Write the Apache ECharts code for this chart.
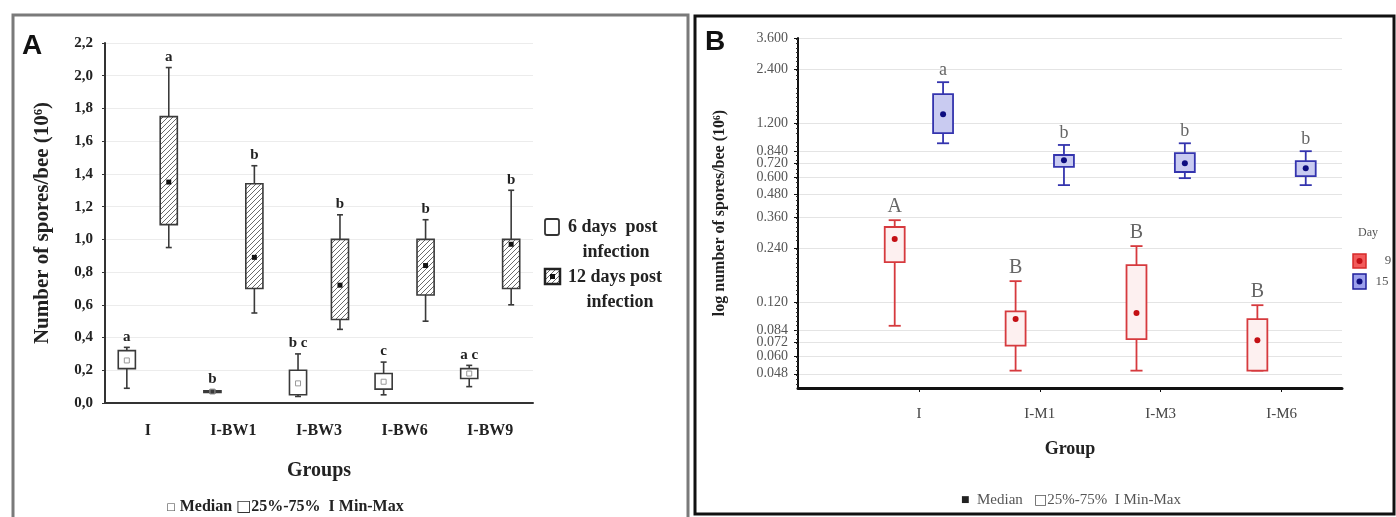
<!DOCTYPE html>
<html>
<head>
<meta charset="utf-8">
<script src="https://cdn.jsdelivr.net/npm/echarts@6/dist/echarts.min.js"></script>
<style>
  html, body { margin: 0; padding: 0; background: #fff; }
  #chart { width: 1396px; height: 517px; }
</style>
</head>
<body>
<div id="chart"></div>
<script>
// ---- panel A data: [min, q1, median, q3, max] ----
const groupsA = ['I', 'I-BW1', 'I-BW3', 'I-BW6', 'I-BW9'];
const day6A = [
  [0.09, 0.21, 0.26, 0.32, 0.34],
  [0.06, 0.065, 0.07, 0.075, 0.08],
  [0.04, 0.05, 0.12, 0.20, 0.30],
  [0.05, 0.085, 0.13, 0.18, 0.25],
  [0.10, 0.15, 0.18, 0.21, 0.23]
];
const day12A = [
  [0.95, 1.09, 1.35, 1.75, 2.05],
  [0.55, 0.70, 0.89, 1.34, 1.45],
  [0.45, 0.51, 0.72, 1.00, 1.15],
  [0.50, 0.66, 0.84, 1.00, 1.12],
  [0.60, 0.70, 0.97, 1.00, 1.30]
];
const day6LettersA = ['a', 'b', 'b c', 'c', 'a c'];
const day12LettersA = ['a', 'b', 'b', 'b', 'b'];

// ---- panel B data ----
const groupsB = ['I', 'I-M1', 'I-M3', 'I-M6'];
const day9B = [
  [0.089, 0.202, 0.272, 0.317, 0.346],
  [0.050, 0.069, 0.097, 0.107, 0.158],
  [0.050, 0.075, 0.105, 0.194, 0.248],
  [0.050, 0.050, 0.074, 0.097, 0.116]
];
const day15B = [
  [0.93, 1.06, 1.35, 1.75, 2.04],
  [0.543, 0.686, 0.747, 0.80, 0.91],
  [0.594, 0.643, 0.72, 0.82, 0.93],
  [0.543, 0.61, 0.675, 0.74, 0.84]
];
const day9LettersB = ['A', 'B', 'B', 'B'];
const day15LettersB = ['a', 'b', 'b', 'b'];
const yTicksB = [0.048, 0.060, 0.072, 0.084, 0.120, 0.240, 0.360, 0.480, 0.600, 0.720, 0.840, 1.200, 2.400, 3.600];

const SERIF = '"Liberation Serif", "Times New Roman", serif';
const SANS = '"Liberation Sans", Arial, sans-serif';

// hatch pattern for the 12 days boxes
const hatch = document.createElement('canvas');
hatch.width = 5;
hatch.height = 5;
const hctx = hatch.getContext('2d');
hctx.fillStyle = '#fff';
hctx.fillRect(0, 0, 5, 5);
hctx.strokeStyle = '#6a6a6a';
hctx.lineWidth = 1;
hctx.beginPath();
hctx.moveTo(0, 5); hctx.lineTo(5, 0);
hctx.moveTo(-1, 1); hctx.lineTo(1, -1);
hctx.moveTo(4, 6); hctx.lineTo(6, 4);
hctx.stroke();

const log = v => Math.log10(v);

function toData(rows, base, tf) {
  return rows.map((r, i) => [i + base].concat(r.map(tf)));
}

// draws whisker + box + median + letter
function boxRenderer(cfg) {
  return function (params, api) {
    const x = api.value(0);
    const band = api.size([1, 0])[0];
    const cx = api.coord([x, api.value(3)])[0] + cfg.offset * band;
    const w = cfg.width * band;
    const cap = cfg.cap * band;
    const py = i => api.coord([x, api.value(i)])[1];
    const yMin = py(1), yQ1 = py(2), yMed = py(3), yQ3 = py(4), yMax = py(5);
    const ls = { stroke: cfg.color, lineWidth: cfg.lineWidth };
    const kids = [
      { type: 'line', shape: { x1: cx, y1: yMax, x2: cx, y2: yQ3 }, style: ls },
      { type: 'line', shape: { x1: cx, y1: yQ1, x2: cx, y2: yMin }, style: ls },
      { type: 'line', shape: { x1: cx - cap / 2, y1: yMax, x2: cx + cap / 2, y2: yMax }, style: ls },
      { type: 'line', shape: { x1: cx - cap / 2, y1: yMin, x2: cx + cap / 2, y2: yMin }, style: ls },
      {
        type: 'rect',
        shape: { x: cx - w / 2, y: yQ3, width: w, height: Math.max(yQ1 - yQ3, 1) },
        style: { fill: cfg.fill, stroke: cfg.color, lineWidth: cfg.lineWidth }
      }
    ];
    if (cfg.median === 'dot') {
      kids.push({ type: 'circle', shape: { cx: cx, cy: yMed, r: 3 }, style: { fill: cfg.medColor } });
    } else if (cfg.median === 'square') {
      kids.push({ type: 'rect', shape: { x: cx - 2.5, y: yMed - 2.5, width: 5, height: 5 }, style: { fill: cfg.medColor } });
    } else {
      kids.push({ type: 'rect', shape: { x: cx - 2.5, y: yMed - 2.5, width: 5, height: 5 }, style: { fill: 'none', stroke: cfg.medColor, lineWidth: 1 } });
    }
    kids.push({
      type: 'text',
      style: {
        text: cfg.letters[params.dataIndex], x: cx, y: yMax - cfg.letterGap,
        align: 'center', verticalAlign: 'bottom',
        fontFamily: SERIF, fontSize: cfg.letterSize, fontWeight: cfg.letterWeight, fill: cfg.letterColor
      }
    });
    return { type: 'group', children: kids };
  };
}

const chart = echarts.init(document.getElementById('chart'), null, { renderer: 'canvas' });

const option = {
  animation: false,
  backgroundColor: '#fff',
  grid: [
    { left: 105, top: 43, width: 428, height: 360 },
    { left: 798, top: 38, width: 544, height: 350 }
  ],
  xAxis: [
    {
      gridIndex: 0, type: 'category', data: groupsA, boundaryGap: true,
      axisLine: { lineStyle: { color: '#333', width: 2 } },
      axisTick: { alignWithLabel: true, length: 4, lineStyle: { color: '#333' } },
      axisLabel: { margin: 20, color: '#222', fontFamily: SERIF, fontWeight: 'bold', fontSize: 16 },
      name: 'Groups', nameLocation: 'middle', nameGap: 58,
      nameTextStyle: { color: '#222', fontFamily: SERIF, fontWeight: 'bold', fontSize: 20 }
    },
    {
      gridIndex: 1, type: 'value', min: 0, max: 4.5,
      axisLine: { onZero: false, lineStyle: { color: '#111', width: 3 } },
      axisTick: { customValues: [1, 2, 3, 4], length: 4, lineStyle: { color: '#111' } },
      axisLabel: {
        customValues: [1, 2, 3, 4], margin: 19, color: '#444', fontFamily: SERIF, fontSize: 15,
        formatter: v => groupsB[Math.round(v) - 1] || ''
      },
      splitLine: { show: false },
      name: 'Group', nameLocation: 'middle', nameGap: 52,
      nameTextStyle: { color: '#222', fontFamily: SERIF, fontWeight: 'bold', fontSize: 18 }
    }
  ],
  yAxis: [
    {
      gridIndex: 0, type: 'value', min: 0, max: 2.2, interval: 0.2,
      axisLine: { show: true, lineStyle: { color: '#333', width: 2 } },
      axisTick: { show: true, length: 3, lineStyle: { color: '#333' } },
      axisLabel: {
        margin: 12, color: '#222', fontFamily: SERIF, fontWeight: 'bold', fontSize: 15,
        formatter: v => v.toFixed(1).replace('.', ',')
      },
      splitLine: { show: true, lineStyle: { color: '#ececec', width: 1 } },
      name: 'Number of spores/bee (10⁶)', nameLocation: 'middle', nameGap: 52,
      nameTextStyle: { color: '#222', fontFamily: SERIF, fontWeight: 'bold', fontSize: 21 }
    },
    {
      gridIndex: 1, type: 'value', min: log(0.04), max: log(3.6),
      axisLine: { show: true, onZero: false, lineStyle: { color: '#111', width: 2 } },
      axisTick: { show: true, customValues: yTicksB.map(log), length: 4, lineStyle: { color: '#111' } },
      minorTick: { show: true, splitNumber: 12, length: 2, lineStyle: { color: '#333' } },
      axisLabel: {
        customValues: yTicksB.map(log), margin: 10, color: '#555', fontFamily: SERIF, fontSize: 14,
        formatter: v => Math.pow(10, v).toFixed(3)
      },
      splitLine: { show: true, lineStyle: { color: '#e4e4e4', width: 1 } },
      name: 'log number of spores/bee (10⁶)', nameLocation: 'middle', nameGap: 70,
      nameTextStyle: { color: '#222', fontFamily: SERIF, fontWeight: 'bold', fontSize: 16 }
    }
  ],
  series: [
    {
      name: '6 days post infection', type: 'custom', xAxisIndex: 0, yAxisIndex: 0,
      encode: { x: 0, y: [1, 2, 3, 4, 5] },
      data: toData(day6A, 0, v => v),
      renderItem: boxRenderer({
        offset: -0.245, width: 0.2, cap: 0.07, color: '#3a3a3a', lineWidth: 1.6, fill: '#fff',
        median: 'hollow', medColor: '#999', letters: day6LettersA, letterGap: 3,
        letterSize: 15, letterWeight: 'bold', letterColor: '#222'
      })
    },
    {
      name: '12 days post infection', type: 'custom', xAxisIndex: 0, yAxisIndex: 0,
      encode: { x: 0, y: [1, 2, 3, 4, 5] },
      data: toData(day12A, 0, v => v),
      renderItem: boxRenderer({
        offset: 0.245, width: 0.2, cap: 0.07, color: '#3a3a3a', lineWidth: 1.6,
        fill: { image: hatch, repeat: 'repeat' },
        median: 'square', medColor: '#111', letters: day12LettersA, letterGap: 3,
        letterSize: 15, letterWeight: 'bold', letterColor: '#222'
      })
    },
    {
      name: '9', type: 'custom', xAxisIndex: 1, yAxisIndex: 1,
      encode: { x: 0, y: [1, 2, 3, 4, 5] },
      data: toData(day9B, 1, log),
      renderItem: boxRenderer({
        offset: -0.2, width: 0.165, cap: 0.1, color: '#d63a3e', lineWidth: 1.8, fill: '#fdf0f0',
        median: 'dot', medColor: '#c40f14', letters: day9LettersB, letterGap: 3,
        letterSize: 20, letterWeight: 'normal', letterColor: '#666'
      })
    },
    {
      name: '15', type: 'custom', xAxisIndex: 1, yAxisIndex: 1,
      encode: { x: 0, y: [1, 2, 3, 4, 5] },
      data: toData(day15B, 1, log),
      renderItem: boxRenderer({
        offset: 0.2, width: 0.165, cap: 0.1, color: '#3434ae', lineWidth: 1.8, fill: '#c9cbf1',
        median: 'dot', medColor: '#0d0d80', letters: day15LettersB, letterGap: 3,
        letterSize: 18, letterWeight: 'normal', letterColor: '#666'
      })
    }
  ],
  graphic: [
    // frames
    { type: 'rect', shape: { x: 13, y: 15, width: 675, height: 515 }, style: { fill: 'none', stroke: '#7a7a7a', lineWidth: 3 }, z: 100 },
    { type: 'rect', shape: { x: 695, y: 16, width: 699, height: 498 }, style: { fill: 'none', stroke: '#111', lineWidth: 3 }, z: 100 },
    // panel letters
    { type: 'text', style: { text: 'A', x: 22, y: 32, fontFamily: SANS, fontWeight: 'bold', fontSize: 28, fill: '#111' } },
    { type: 'text', style: { text: 'B', x: 705, y: 28, fontFamily: SANS, fontWeight: 'bold', fontSize: 28, fill: '#111' } },
    // panel A right legend
    { type: 'rect', shape: { x: 545, y: 219, width: 14, height: 16, r: 2 }, style: { fill: '#fff', stroke: '#333', lineWidth: 1.8 } },
    { type: 'rect', shape: { x: 545, y: 269, width: 15, height: 15 }, style: { fill: { image: hatch, repeat: 'repeat' }, stroke: '#222', lineWidth: 2.5 } },
    { type: 'rect', shape: { x: 550, y: 274, width: 5, height: 5 }, style: { fill: '#111' } },
    { type: 'text', style: { text: '6 days  post', x: 568, y: 227, verticalAlign: 'middle', fontFamily: SERIF, fontWeight: 'bold', fontSize: 18, fill: '#222' } },
    { type: 'text', style: { text: 'infection', x: 616, y: 252, align: 'center', verticalAlign: 'middle', fontFamily: SERIF, fontWeight: 'bold', fontSize: 18, fill: '#222' } },
    { type: 'text', style: { text: '12 days post', x: 568, y: 277, verticalAlign: 'middle', fontFamily: SERIF, fontWeight: 'bold', fontSize: 18, fill: '#222' } },
    { type: 'text', style: { text: 'infection', x: 620, y: 302, align: 'center', verticalAlign: 'middle', fontFamily: SERIF, fontWeight: 'bold', fontSize: 18, fill: '#222' } },
    // panel A bottom legend
    {
      type: 'text',
      style: {
        text: '{s|□} Median {b|□}25%-75%  I Min-Max', x: 285, y: 507, align: 'center', verticalAlign: 'middle',
        fontFamily: SERIF, fontWeight: 'bold', fontSize: 16, fill: '#222',
        rich: {
          s: { fontFamily: '"DejaVu Sans"', fontSize: 10, fill: '#444' },
          b: { fontFamily: '"DejaVu Sans"', fontSize: 16, fill: '#333' }
        }
      }
    },
    // panel B right legend
    { type: 'text', style: { text: 'Day', x: 1368, y: 233, align: 'center', verticalAlign: 'middle', fontFamily: SERIF, fontSize: 12, fill: '#555' } },
    { type: 'rect', shape: { x: 1353, y: 254, width: 13, height: 14 }, style: { fill: '#f25b5b', stroke: '#d62a2a', lineWidth: 1.5 } },
    { type: 'circle', shape: { cx: 1359.5, cy: 261, r: 3 }, style: { fill: '#c40f14' } },
    { type: 'rect', shape: { x: 1353, y: 274, width: 13, height: 15 }, style: { fill: '#9ca0ec', stroke: '#1e1e9a', lineWidth: 1.5 } },
    { type: 'circle', shape: { cx: 1359.5, cy: 281.5, r: 3 }, style: { fill: '#0d0d80' } },
    { type: 'text', style: { text: '9', x: 1388, y: 261, align: 'center', verticalAlign: 'middle', fontFamily: SERIF, fontSize: 13, fill: '#555' } },
    { type: 'text', style: { text: '15', x: 1382, y: 282, align: 'center', verticalAlign: 'middle', fontFamily: SERIF, fontSize: 13, fill: '#555' } },
    // panel B bottom legend
    {
      type: 'text',
      style: {
        text: '{d|■}  Median   {b|□}25%-75%  I Min-Max', x: 1071, y: 500, align: 'center', verticalAlign: 'middle',
        fontFamily: SERIF, fontSize: 15, fill: '#555',
        rich: {
          d: { fontFamily: '"DejaVu Sans"', fontSize: 9, fill: '#222' },
          b: { fontFamily: '"DejaVu Sans"', fontSize: 14, fill: '#555' }
        }
      }
    }
  ]
};

chart.setOption(option);
</script>
</body>
</html>
